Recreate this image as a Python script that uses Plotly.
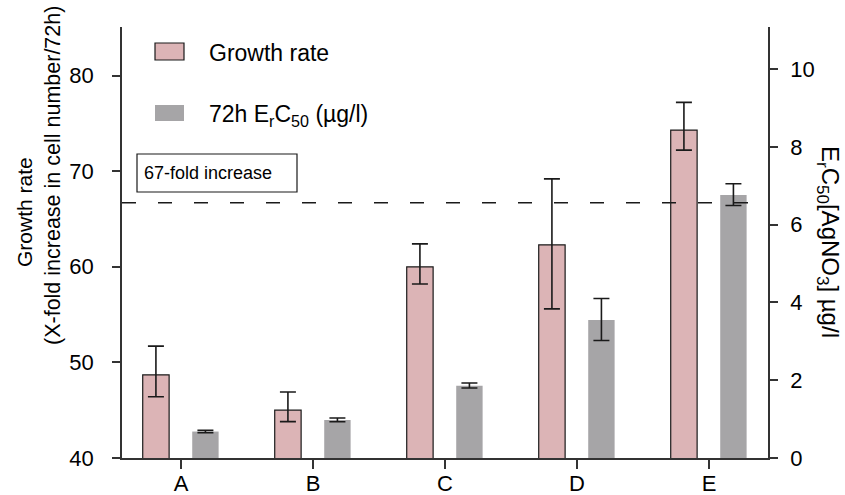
import plotly.graph_objects as go

# Algal growth and EC50 per test group
categories = ["A", "B", "C", "D", "E"]
growth_rate = [48.7, 45.0, 60.0, 62.3, 74.3]
growth_err_plus = [3.0, 1.9, 2.4, 6.9, 2.9]
growth_err_minus = [2.3, 1.2, 1.8, 6.7, 2.1]
erc50 = [0.68, 0.98, 1.86, 3.55, 6.76]
erc50_err_plus = [0.03, 0.05, 0.07, 0.55, 0.29]
erc50_err_minus = [0.03, 0.05, 0.06, 0.53, 0.27]
fold_increase = 66.7
left_ticks = [40, 50, 60, 70, 80]
right_ticks = [0, 2, 4, 6, 8, 10]

W, H = 845, 495
ML, MR, MT, MB = 122, 77, 27, 37
PW, PH = W - ML - MR, H - MT - MB


def px(x):
    return (x - ML) / PW


def py(y):
    return (H - MB - y) / PH


FONT = "Arial, Liberation Sans, sans-serif"
PINK = "#dcb4b6"
GREY = "#a6a5a7"
INK = "#1a1a1a"
AXIS = "#333333"

xi = list(range(len(categories)))

fig = go.Figure()
fig.add_trace(go.Bar(
    x=xi, y=growth_rate, width=0.2, offset=-0.29,
    marker=dict(color=PINK, line=dict(color=INK, width=1.2)),
    error_y=dict(type="data", symmetric=False, array=growth_err_plus,
                 arrayminus=growth_err_minus, color=INK, thickness=1.6, width=8),
    name="Growth rate", showlegend=False, yaxis="y",
))
fig.add_trace(go.Bar(
    x=xi, y=erc50, width=0.2, offset=0.085,
    marker=dict(color=GREY, line=dict(width=0)),
    error_y=dict(type="data", symmetric=False, array=erc50_err_plus,
                 arrayminus=erc50_err_minus, color=INK, thickness=1.6, width=8),
    name="72h ErC50 (µg/l)", showlegend=False, yaxis="y2",
))

shapes = [
    # reference level
    dict(type="line", xref="paper", yref="y", x0=0, x1=1,
         y0=fold_increase, y1=fold_increase,
         line=dict(color=INK, width=1.5, dash="14px,22px")),
    # label box
    dict(type="rect", xref="paper", yref="paper",
         x0=px(137), x1=px(297), y0=py(192), y1=py(154),
         line=dict(color=INK, width=1.2), fillcolor="white"),
    # legend swatches
    dict(type="rect", xref="paper", yref="paper",
         x0=px(155), x1=px(184), y0=py(60), y1=py(43),
         line=dict(color=INK, width=1.2), fillcolor=PINK),
    dict(type="rect", xref="paper", yref="paper",
         x0=px(155), x1=px(184), y0=py(121), y1=py(105),
         line=dict(width=0), fillcolor=GREY),
]

SUB = '<sub><span style="font-size:17px">{}</span></sub>'

annotations = [
    dict(text="67-fold increase", xref="paper", yref="paper",
         x=px(142), y=py(173), xanchor="left", yanchor="middle",
         showarrow=False, font=dict(family=FONT, size=18, color="black")),
    dict(text="Growth rate", xref="paper", yref="paper",
         x=px(207), y=py(53), xanchor="left", yanchor="middle",
         showarrow=False, font=dict(family=FONT, size=23, color="black")),
    dict(text="72h E<sub>r</sub>C<sub>50</sub> (µg/l)", xref="paper", yref="paper",
         x=px(207), y=py(115), xanchor="left", yanchor="middle",
         showarrow=False, font=dict(family=FONT, size=23, color="black")),
    dict(text="Growth rate", xref="paper", yref="paper",
         x=px(24), y=py(212), xanchor="center", yanchor="middle", textangle=-90,
         showarrow=False, font=dict(family=FONT, size=21, color="black")),
    dict(text="(X-fold increase in cell number/72h)", xref="paper", yref="paper",
         x=px(53), y=py(176), xanchor="center", yanchor="middle", textangle=-90,
         showarrow=False, font=dict(family=FONT, size=21.5, color="black")),
    dict(text="E" + SUB.format("r") + "C" + SUB.format("50") + "[AgNO"
              + SUB.format("3") + "] µg/l",
         xref="paper", yref="paper",
         x=px(829), y=py(242), xanchor="center", yanchor="middle", textangle=90,
         showarrow=False, font=dict(family=FONT, size=24, color="black")),
]

fig.update_layout(
    width=W, height=H,
    margin=dict(l=ML, r=MR, t=MT, b=MB, pad=0, autoexpand=False),
    paper_bgcolor="white", plot_bgcolor="white",
    font=dict(family=FONT, size=22, color="black"),
    barmode="overlay",
    xaxis=dict(
        range=[-0.447, 4.447], tickmode="array", tickvals=xi, ticktext=categories,
        showline=True, linecolor=AXIS, linewidth=1.5, mirror=False,
        ticks="outside", ticklen=9, tickwidth=1.5, tickcolor=AXIS,
        showgrid=False, zeroline=False, ticklabelstandoff=-4, automargin=False,
        tickfont=dict(family=FONT, size=22, color="black"),
    ),
    yaxis=dict(
        range=[40, 85.08], tickvals=left_ticks,
        showline=True, linecolor=AXIS, linewidth=1.5,
        ticks="outside", ticklen=8, tickwidth=1.5, tickcolor=AXIS,
        showgrid=False, zeroline=False, ticklabelstandoff=14, automargin=False,
        tickfont=dict(family=FONT, size=22, color="black"),
    ),
    yaxis2=dict(
        range=[0, 11.08], tickvals=right_ticks, overlaying="y", side="right",
        showline=True, linecolor=AXIS, linewidth=1.5,
        ticks="outside", ticklen=8, tickwidth=1.5, tickcolor=AXIS,
        showgrid=False, zeroline=False, ticklabelstandoff=8, automargin=False,
        tickfont=dict(family=FONT, size=22, color="black"),
    ),
    shapes=shapes,
    annotations=annotations,
)

fig.write_html("out.html")
